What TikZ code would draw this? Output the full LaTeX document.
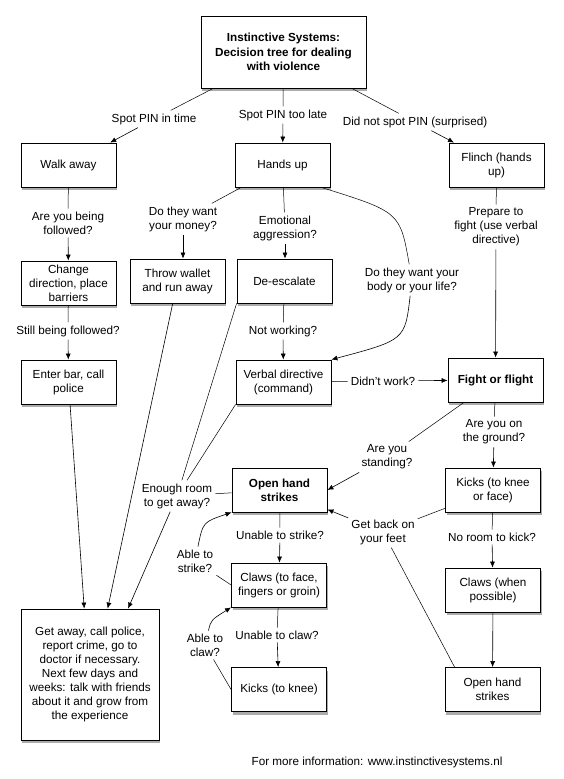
\documentclass[tikz,border=0pt]{standalone}
\usepackage{fontspec}
\setmainfont{Liberation Sans}
\usetikzlibrary{shapes,arrows.meta,shadows}
\tikzstyle{box}=[rectangle,draw=black,line width=.8pt,fill=white,minimum width=95pt,minimum height=44pt,align=center,inner sep=2pt,drop shadow={shadow xshift=1pt,shadow yshift=-3pt,fill=black!60,opacity=.55}]
\tikzstyle{lbl}=[align=center,inner sep=3pt]
\tikzstyle{ln}=[line width=.5pt]
\tikzstyle{arr}=[line width=.6pt,-{Latex[length=6pt,width=5pt]}]

\begin{document}
\begin{tikzpicture}[x=1pt,y=-1pt,every node/.style={font=\fontsize{11.7}{14}\selectfont}]
\useasboundingbox (0,0) rectangle (564,779);
% boxes
\node[box,minimum width=165pt,minimum height=72pt,font=\fontsize{11.7}{14.5}\selectfont\bfseries] (tit) at (283.5,52) {Instinctive Systems:\\Decision tree for dealing\\with violence};
\node[box] (walk)   at (68.5,165)  {Walk away};
\node[box] (hands)  at (282.5,165) {Hands up};
\node[box] (flinch) at (496.5,165) {Flinch (hands\\up)};
\node[box] (change) at (68.5,283)  {Change\\direction, place\\barriers};
\node[box] (throw)  at (177.5,281) {Throw wallet\\and run away};
\node[box] (deesc)  at (284.5,281) {De-escalate};
\node[box] (enter)  at (68.5,382)  {Enter bar, call\\police};
\node[box] (verbal) at (283.5,382) {Verbal directive\\(command)};
\node[box,font=\fontsize{11.7}{14}\selectfont\bfseries] (fight) at (495.5,380) {Fight or flight};
\node[box,font=\fontsize{11.7}{14}\selectfont\bfseries] (ohs) at (279.5,490) {Open hand\\strikes};
\node[box] (kicksf) at (493,490)   {Kicks (to knee\\or face)};
\node[box] (claws)  at (279,585)   {Claws (to face,\\fingers or groin)};
\node[box] (clawsw) at (493,590)   {Claws (when\\possible)};
\node[box,minimum width=138pt,minimum height=131pt] (getaway) at (90,674.5) {Get away, call police,\\report crime, go to\\doctor if necessary.\\Next few days and\\weeks: talk with friends\\about it and grow from\\the experience};
\node[box] (kicks)  at (279,689.5) {Kicks (to knee)};
\node[box] (ohs2)   at (492.5,689.5) {Open hand\\strikes};
% labels
\node[lbl] (intime)  at (154,119) {Spot PIN in time};
\node[lbl] (late)    at (283,115) {Spot PIN too late};
\node[lbl] (surpr)   at (415,122) {Did not spot PIN (surprised)};
\node[lbl] (follow)  at (68,223)  {Are you being\\followed?};
\node[lbl] (money)   at (183,219) {Do they want\\your money?};
\node[lbl] (emo)     at (285,228) {Emotional\\aggression?};
\node[lbl] (body)    at (412,280) {Do they want your\\body or your life?};
\node[lbl] (prep)    at (496,227) {Prepare to\\fight (use verbal\\directive)};
\node[lbl] (still)   at (68,331)  {Still being followed?};
\node[lbl] (notwork) at (283,331) {Not working?};
\node[lbl] (didnt)   at (383,381) {Didn't work?};
\node[lbl] (room)    at (177,496) {Enough room\\to get away?};
\node[lbl] (ground)  at (494,432) {Are you on\\the ground?};
\node[lbl] (stand)   at (387,457) {Are you\\standing?};
\node[lbl] (nostrike) at (280,535) {Unable to strike?};
\node[lbl] (feet)    at (383,532) {Get back on\\your feet};
\node[lbl] (nokick)  at (492,537) {No room to kick?};
\node[lbl] (str)     at (195,561) {Able to\\strike?};
\node[lbl] (noclaw)  at (277,635) {Unable to claw?};
\node[lbl] (claw)    at (205,645) {Able to\\claw?};
\node (info) at (377,762) {For more information: www.instinctivesystems.nl};
% connectors
\draw[ln] (tit) -- (intime);  \draw[arr] (intime) -- (walk);
\draw[ln] (tit) -- (late);    \draw[arr] (late) -- (hands);
\draw[ln] (tit) -- (surpr);   \draw[arr] (surpr) -- (flinch);
\draw[ln] (walk) -- (follow); \draw[arr] (follow) -- (change);
\draw[ln] (change) -- (still); \draw[arr] (still) -- (enter);
\draw[ln] (hands) -- (money); \draw[arr] (money) -- (money |- throw.north);
\draw[ln] (hands) -- (emo);   \draw[arr] (emo) -- (emo |- deesc.north);
\draw[ln] (hands.-30) .. controls (400,212) .. (body);
\draw[arr] (body) .. controls (405,340) .. (verbal.north east);
\draw[ln] (deesc) -- (notwork); \draw[arr] (notwork) -- (verbal);
\draw[ln] (verbal) -- (didnt);  \draw[arr] (didnt) -- (fight);
\draw[ln] (flinch) -- (prep);   \draw[arr] (prep) -- (fight);
\draw[ln] (deesc.south west) -- (room);
\draw[ln] (verbal.south west) -- (room);
\draw[ln] (ohs) -- (room);
\draw[arr] (room) -- (getaway.60);
\draw[arr] (enter) -- (getaway.95);
\draw[arr] (throw) -- (getaway.75);
\draw[ln] (fight) -- (ground); \draw[arr] (ground) -- (kicksf);
\draw[ln] (fight) -- (stand);  \draw[arr] (stand) -- (ohs.east);
\draw[ln] (kicksf) -- (feet);  \draw[arr] (feet) -- (ohs);
\draw[ln] ([xshift=10pt]ohs2.north west) -- (feet);
\draw[ln] (kicksf) -- (nokick); \draw[arr] (nokick) -- (clawsw);
\draw[arr] (clawsw) -- (ohs2);
\draw[ln] (ohs) -- (nostrike); \draw[arr] (nostrike) -- (claws);
\draw[ln] (claws.west) -- (str);
\draw[arr] (str) .. controls (203,522) .. (ohs.south west);
\draw[ln] (claws) -- (noclaw); \draw[arr] (noclaw) -- (kicks);
\draw[ln] (kicks.west) -- (claw);
\draw[arr] (claw) .. controls (211,620) .. (claws.south west);
\end{tikzpicture}
\end{document}
